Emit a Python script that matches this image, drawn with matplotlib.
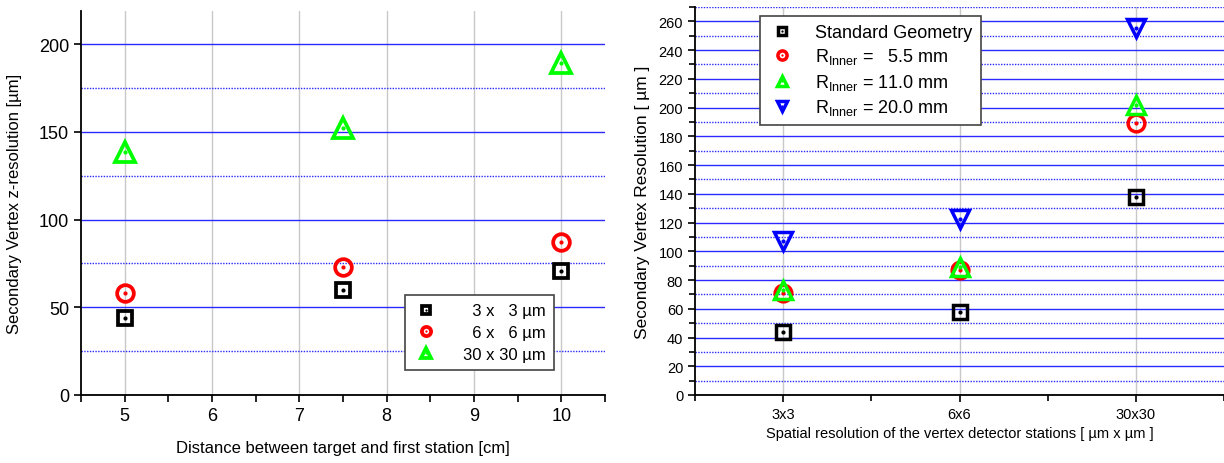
import matplotlib
matplotlib.use("Agg")
import matplotlib.pyplot as plt
from matplotlib.legend_handler import HandlerTuple
from matplotlib.ticker import MultipleLocator, FixedLocator

plt.rcParams['font.family'] = ['Liberation Sans', 'DejaVu Sans']
plt.rcParams['mathtext.fontset'] = 'custom'
plt.rcParams['mathtext.rm'] = 'Liberation Sans'

# left panel: resolution vs distance target - first station
distance = [5, 7.5, 10]
res_3x3 = [44, 60, 71]
res_6x6 = [58, 73, 87]
res_30x30 = [138.5, 152, 189.5]
left_labels = ['  3 x   3 µm', '  6 x   6 µm', '30 x 30 µm']

# right panel: resolution vs spatial resolution of stations
pixel_sizes = ['3x3', '6x6', '30x30']
std_geom = [44, 58, 138]
r_inner_5_5 = [71, 87, 189]
r_inner_11 = [73, 89, 202]
r_inner_20 = [107.5, 122.5, 255.5]
right_labels = ['Standard Geometry',
                r'R$_{\mathrm{Inner}}$ =   5.5 mm',
                r'R$_{\mathrm{Inner}}$ = 11.0 mm',
                r'R$_{\mathrm{Inner}}$ = 20.0 mm']

BLUE_GRID = '#2a2aff'


def mark(ax, x, y, color, marker, ms, mew):
    a, = ax.plot(x, y, ls='none', marker=marker, ms=ms, mfc='none', mec=color, mew=mew, zorder=3)
    b, = ax.plot(x, y, ls='none', marker='o', ms=3, mfc=color, mec='none', zorder=4)
    return (a, b)


def style_axes(ax):
    for s in ['top', 'right']:
        ax.spines[s].set_visible(False)
    for s in ['left', 'bottom']:
        ax.spines[s].set_linewidth(1.3)
    ax.set_axisbelow(True)
    ax.yaxis.grid(True, which='major', color=BLUE_GRID, lw=1.0, ls='-')
    ax.yaxis.grid(True, which='minor', color=BLUE_GRID, lw=1.0, ls=(0, (1, 1)))
    ax.xaxis.grid(True, which='major', color='#c8c8c8', lw=1.0)


fig = plt.figure(figsize=(12.24, 4.64), dpi=100)

# ---- left panel
ax1 = fig.add_axes([81 / 1224, 68 / 464, 524 / 1224, 384 / 464])
h1 = mark(ax1, distance, res_3x3, 'black', 's', 10, 2.7)
h2 = mark(ax1, distance, res_6x6, 'red', 'o', 12, 2.7)
h3 = mark(ax1, distance, res_30x30, '#00ff00', '^', 14, 2.7)
ax1.set_xlim(4.5, 10.5)
ax1.set_ylim(0, 219)
ax1.xaxis.set_major_locator(MultipleLocator(1))
ax1.xaxis.set_minor_locator(MultipleLocator(0.5))
ax1.yaxis.set_major_locator(MultipleLocator(50))
ax1.yaxis.set_minor_locator(MultipleLocator(25))
ax1.tick_params(axis='both', which='both', direction='out', width=1.2, length=5, labelsize=13)
ax1.tick_params(axis='y', which='minor', length=0)
style_axes(ax1)
ax1.set_xlabel('Distance between target and first station [cm]', fontsize=12, labelpad=12)
ax1.set_ylabel('Secondary Vertex z-resolution [µm]', fontsize=12, labelpad=12)
leg1 = ax1.legend([h1, h2, h3], left_labels, handler_map={tuple: HandlerTuple(ndivide=1)},
                  loc='upper left', bbox_to_anchor=(0.618, 0.26), borderaxespad=0,
                  fontsize=12, markerscale=0.55, handlelength=1.5, handletextpad=1.5,
                  labelspacing=0.4, borderpad=0.5, fancybox=False, framealpha=1)
leg1.get_frame().set_edgecolor('#444444')
leg1.get_frame().set_linewidth(1.2)

# ---- right panel
ax2 = fig.add_axes([695 / 1224, 68 / 464, 529 / 1224, 388 / 464])
xpos = list(range(len(pixel_sizes)))
g1 = mark(ax2, xpos, std_geom, 'black', 's', 10.5, 2.5)
g2 = mark(ax2, xpos, r_inner_5_5, 'red', 'o', 12, 2.5)
g3 = mark(ax2, xpos, r_inner_11, '#00ff00', '^', 13.5, 2.5)
g4 = mark(ax2, xpos, r_inner_20, 'blue', 'v', 13.5, 2.5)
ax2.set_xlim(-0.5, 2.5)
ax2.set_ylim(0, 270)
ax2.xaxis.set_major_locator(FixedLocator(xpos))
ax2.set_xticklabels(pixel_sizes)
ax2.xaxis.set_minor_locator(MultipleLocator(0.5))
ax2.yaxis.set_major_locator(MultipleLocator(20))
ax2.yaxis.set_minor_locator(MultipleLocator(10))
ax2.tick_params(axis='both', which='major', direction='out', width=1.2, length=5, labelsize=10.5)
ax2.tick_params(axis='both', which='minor', direction='out', width=1.2, length=4)
style_axes(ax2)
ax2.set_xlabel('Spatial resolution of the vertex detector stations [ µm x µm ]', fontsize=10.5, labelpad=4)
ax2.set_ylabel('Secondary Vertex Resolution [ µm ]', fontsize=12.5, labelpad=6)
leg2 = ax2.legend([g1, g2, g3, g4], right_labels, handler_map={tuple: HandlerTuple(ndivide=1)},
                  loc='upper left', bbox_to_anchor=(0.123, 0.977), borderaxespad=0,
                  fontsize=13, markerscale=0.55, handlelength=1.5, handletextpad=1.1,
                  labelspacing=0.3, borderpad=0.45, fancybox=False, framealpha=1)
leg2.get_frame().set_edgecolor('#444444')
leg2.get_frame().set_linewidth(1.2)

fig.savefig('out.png', dpi=100)
